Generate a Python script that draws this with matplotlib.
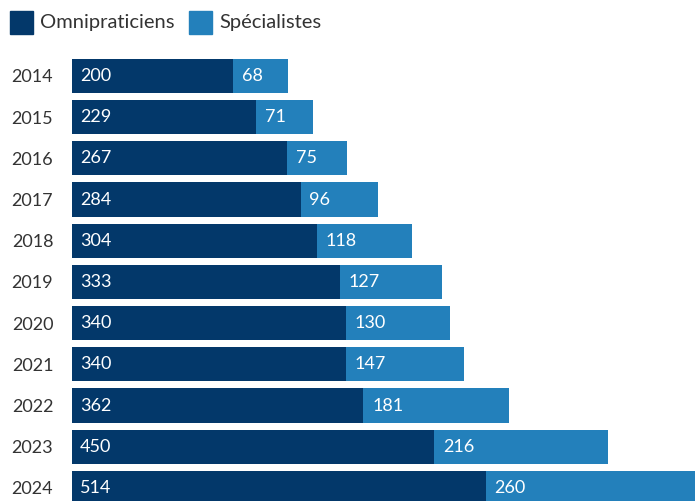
import matplotlib.pyplot as plt
from matplotlib.patches import Rectangle

years = ['2014', '2015', '2016', '2017', '2018', '2019', '2020', '2021', '2022', '2023', '2024']
omnipraticiens = [200, 229, 267, 284, 304, 333, 340, 340, 362, 450, 514]
specialistes = [68, 71, 75, 96, 118, 127, 130, 147, 181, 216, 260]

dark = '#03386a'
light = '#2380bb'

plt.rcParams['font.family'] = ['Lato', 'DejaVu Sans']

fig = plt.figure(figsize=(6.95, 5.01), dpi=100)
ax = fig.add_axes([72 / 695, 0, 623 / 695, 451 / 501])

pos = list(range(len(years)))
ax.barh(pos, omnipraticiens, height=0.83, color=dark)
ax.barh(pos, specialistes, left=omnipraticiens, height=0.83, color=light)

# values written inside each segment
for i in pos:
    ax.text(10, i, str(omnipraticiens[i]), color='white', fontsize=13,
            va='center', ha='left')
    ax.text(omnipraticiens[i] + 11, i, str(specialistes[i]), color='white',
            fontsize=13, va='center', ha='left')

ax.set_xlim(0, 774)
ax.set_ylim(10.316, -0.631)
ax.set_yticks(pos)
ax.set_yticklabels(years, fontsize=13, color='#333333')
ax.tick_params(axis='y', length=0, pad=13.5)
ax.set_xticks([])
for s in ax.spines.values():
    s.set_visible(False)

# legend
fig.patches.append(Rectangle((10 / 695, 1 - 34 / 501), 23 / 695, 23 / 501,
                             transform=fig.transFigure, color=dark))
fig.text(40 / 695, 1 - 22.5 / 501, 'Omnipraticiens', fontsize=14.5,
         color='#333333', va='center', ha='left')
fig.patches.append(Rectangle((189 / 695, 1 - 34 / 501), 23 / 695, 23 / 501,
                             transform=fig.transFigure, color=light))
fig.text(219 / 695, 1 - 22.5 / 501, 'Spécialistes', fontsize=14.5,
         color='#333333', va='center', ha='left')

fig.savefig('out.png', dpi=100)
